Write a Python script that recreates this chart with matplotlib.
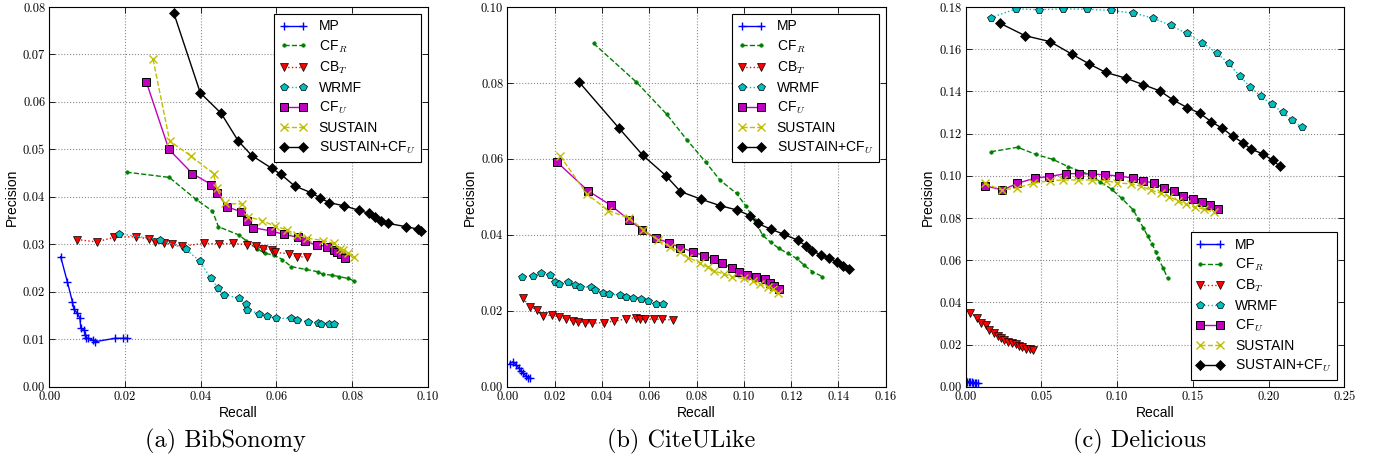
import matplotlib
matplotlib.use("Agg")
from matplotlib import pyplot as plt

# ---- (a) BibSonomy ----
bib_mp_r = [0.0030, 0.0048, 0.0061, 0.0065, 0.0074, 0.0081, 0.0083, 0.0092, 0.0095, 0.0097, 0.0103, 0.0115, 0.0122, 0.0174, 0.0196, 0.0204]
bib_mp_p = [0.0274, 0.0220, 0.0179, 0.0163, 0.0155, 0.0144, 0.0124, 0.0119, 0.0109, 0.0103, 0.0102, 0.0098, 0.0095, 0.0102, 0.0102, 0.0102]
bib_cfr_r = [0.0204, 0.0317, 0.0387, 0.0431, 0.0447, 0.0500, 0.0520, 0.0548, 0.0570, 0.0594, 0.0616, 0.0639, 0.0678, 0.0711, 0.0722, 0.0746, 0.0766, 0.0790, 0.0805]
bib_cfr_p = [0.0452, 0.0441, 0.0395, 0.0370, 0.0337, 0.0320, 0.0308, 0.0291, 0.0281, 0.0277, 0.0268, 0.0253, 0.0247, 0.0242, 0.0237, 0.0235, 0.0232, 0.0228, 0.0223]
bib_cbt_r = [0.0074, 0.0125, 0.0172, 0.0229, 0.0263, 0.0280, 0.0303, 0.0323, 0.0351, 0.0408, 0.0448, 0.0485, 0.0522, 0.0545, 0.0565, 0.0589, 0.0596, 0.0633, 0.0654, 0.0680]
bib_cbt_p = [0.0310, 0.0305, 0.0315, 0.0316, 0.0311, 0.0305, 0.0303, 0.0300, 0.0296, 0.0302, 0.0301, 0.0302, 0.0299, 0.0296, 0.0291, 0.0288, 0.0283, 0.0280, 0.0274, 0.0273]
bib_wrmf_r = [0.0185, 0.0292, 0.0360, 0.0397, 0.0426, 0.0445, 0.0462, 0.0502, 0.0519, 0.0523, 0.0555, 0.0576, 0.0598, 0.0638, 0.0654, 0.0684, 0.0711, 0.0717, 0.0739, 0.0752]
bib_wrmf_p = [0.0322, 0.0310, 0.0290, 0.0265, 0.0229, 0.0209, 0.0194, 0.0186, 0.0174, 0.0162, 0.0154, 0.0149, 0.0144, 0.0144, 0.0140, 0.0137, 0.0135, 0.0133, 0.0132, 0.0132]
bib_cfu_r = [0.0256, 0.0316, 0.0378, 0.0428, 0.0444, 0.0469, 0.0506, 0.0522, 0.0539, 0.0587, 0.0620, 0.0656, 0.0676, 0.0707, 0.0733, 0.0751, 0.0761, 0.0770, 0.0781]
bib_cfu_p = [0.0643, 0.0500, 0.0449, 0.0426, 0.0409, 0.0379, 0.0369, 0.0350, 0.0335, 0.0328, 0.0321, 0.0315, 0.0306, 0.0299, 0.0295, 0.0289, 0.0283, 0.0280, 0.0271]
bib_sus_r = [0.0274, 0.0318, 0.0374, 0.0434, 0.0442, 0.0464, 0.0510, 0.0526, 0.0561, 0.0595, 0.0629, 0.0655, 0.0680, 0.0724, 0.0751, 0.0767, 0.0777, 0.0788, 0.0804]
bib_sus_p = [0.0690, 0.0518, 0.0486, 0.0449, 0.0418, 0.0386, 0.0385, 0.0358, 0.0350, 0.0339, 0.0330, 0.0320, 0.0313, 0.0308, 0.0302, 0.0291, 0.0287, 0.0281, 0.0273]
bib_both_r = [0.0329, 0.0399, 0.0454, 0.0499, 0.0535, 0.0588, 0.0611, 0.0648, 0.0691, 0.0715, 0.0739, 0.0779, 0.0817, 0.0845, 0.0861, 0.0877, 0.0896, 0.0943, 0.0975, 0.0981]
bib_both_p = [0.0787, 0.0619, 0.0576, 0.0518, 0.0487, 0.0460, 0.0448, 0.0423, 0.0409, 0.0398, 0.0388, 0.0381, 0.0372, 0.0365, 0.0358, 0.0350, 0.0344, 0.0337, 0.0332, 0.0329]

# ---- (b) CiteULike ----
cul_mp_r = [0.0011, 0.0025, 0.0037, 0.0048, 0.0056, 0.0068, 0.0079, 0.0089, 0.0096]
cul_mp_p = [0.0061, 0.0066, 0.0057, 0.0050, 0.0042, 0.0035, 0.0028, 0.0024, 0.0022]
cul_cfr_r = [0.0365, 0.0546, 0.0673, 0.0758, 0.0838, 0.0899, 0.0969, 0.1008, 0.1046, 0.1079, 0.1114, 0.1149, 0.1185, 0.1223, 0.1255, 0.1290, 0.1332]
cul_cfr_p = [0.0904, 0.0802, 0.0718, 0.0651, 0.0592, 0.0544, 0.0509, 0.0476, 0.0439, 0.0399, 0.0380, 0.0364, 0.0351, 0.0338, 0.0320, 0.0303, 0.0290]
cul_cbt_r = [0.0065, 0.0096, 0.0127, 0.0149, 0.0187, 0.0220, 0.0248, 0.0276, 0.0297, 0.0328, 0.0356, 0.0410, 0.0452, 0.0500, 0.0544, 0.0561, 0.0580, 0.0621, 0.0656, 0.0699]
cul_cbt_p = [0.0233, 0.0211, 0.0202, 0.0186, 0.0189, 0.0184, 0.0179, 0.0174, 0.0171, 0.0169, 0.0167, 0.0169, 0.0173, 0.0178, 0.0182, 0.0179, 0.0178, 0.0178, 0.0177, 0.0176]
cul_wrmf_r = [0.0061, 0.0110, 0.0144, 0.0180, 0.0201, 0.0220, 0.0255, 0.0286, 0.0307, 0.0352, 0.0370, 0.0403, 0.0431, 0.0476, 0.0500, 0.0530, 0.0565, 0.0593, 0.0628, 0.0659]
cul_wrmf_p = [0.0288, 0.0292, 0.0300, 0.0293, 0.0277, 0.0270, 0.0276, 0.0267, 0.0263, 0.0262, 0.0255, 0.0248, 0.0244, 0.0241, 0.0235, 0.0233, 0.0231, 0.0227, 0.0219, 0.0218]
cul_cfu_r = [0.0211, 0.0341, 0.0437, 0.0513, 0.0570, 0.0628, 0.0685, 0.0732, 0.0783, 0.0832, 0.0875, 0.0907, 0.0949, 0.0980, 0.1014, 0.1051, 0.1089, 0.1110, 0.1127, 0.1149]
cul_cfu_p = [0.0591, 0.0516, 0.0478, 0.0440, 0.0413, 0.0391, 0.0379, 0.0366, 0.0356, 0.0345, 0.0336, 0.0325, 0.0313, 0.0303, 0.0295, 0.0290, 0.0284, 0.0274, 0.0266, 0.0257]
cul_sus_r = [0.0223, 0.0337, 0.0427, 0.0514, 0.0575, 0.0638, 0.0687, 0.0732, 0.0765, 0.0814, 0.0849, 0.0873, 0.0914, 0.0948, 0.1000, 0.1039, 0.1070, 0.1103, 0.1124, 0.1145]
cul_sus_p = [0.0608, 0.0507, 0.0464, 0.0444, 0.0414, 0.0386, 0.0369, 0.0354, 0.0340, 0.0327, 0.0314, 0.0305, 0.0297, 0.0290, 0.0285, 0.0278, 0.0270, 0.0262, 0.0256, 0.0248]
cul_both_r = [0.0304, 0.0472, 0.0572, 0.0670, 0.0732, 0.0818, 0.0899, 0.0973, 0.1028, 0.1058, 0.1114, 0.1170, 0.1227, 0.1262, 0.1289, 0.1328, 0.1358, 0.1392, 0.1417, 0.1445]
cul_both_p = [0.0802, 0.0681, 0.0610, 0.0556, 0.0514, 0.0494, 0.0477, 0.0465, 0.0450, 0.0430, 0.0415, 0.0401, 0.0386, 0.0371, 0.0357, 0.0347, 0.0340, 0.0329, 0.0319, 0.0310]

# ---- (c) Delicious ----
del_mp_r = [0.0005, 0.0010, 0.0020, 0.0030, 0.0040, 0.0050, 0.0060, 0.0070, 0.0080]
del_mp_p = [0.0025, 0.0023, 0.0022, 0.0021, 0.0020, 0.0019, 0.0018, 0.0018, 0.0017]
del_cfr_r = [0.0167, 0.0343, 0.0464, 0.0574, 0.0678, 0.0821, 0.0887, 0.0964, 0.1030, 0.1107, 0.1140, 0.1173, 0.1202, 0.1232, 0.1254, 0.1272, 0.1305, 0.1334]
del_cfr_p = [0.1114, 0.1135, 0.1101, 0.1078, 0.1043, 0.1004, 0.0972, 0.0936, 0.0893, 0.0838, 0.0795, 0.0754, 0.0714, 0.0676, 0.0640, 0.0608, 0.0561, 0.0514]
del_cbt_r = [0.0029, 0.0073, 0.0101, 0.0132, 0.0154, 0.0189, 0.0211, 0.0233, 0.0255, 0.0282, 0.0308, 0.0330, 0.0352, 0.0374, 0.0396, 0.0425, 0.0447]
del_cbt_p = [0.0351, 0.0327, 0.0303, 0.0292, 0.0269, 0.0256, 0.0240, 0.0229, 0.0221, 0.0213, 0.0209, 0.0201, 0.0193, 0.0186, 0.0179, 0.0177, 0.0174]
del_wrmf_r = [0.0165, 0.0332, 0.0486, 0.0645, 0.0803, 0.0957, 0.1103, 0.1235, 0.1353, 0.1459, 0.1563, 0.1659, 0.1736, 0.1809, 0.1877, 0.1948, 0.2020, 0.2093, 0.2154, 0.2218]
del_wrmf_p = [0.1749, 0.1791, 0.1787, 0.1791, 0.1789, 0.1784, 0.1772, 0.1748, 0.1713, 0.1675, 0.1631, 0.1582, 0.1533, 0.1474, 0.1422, 0.1378, 0.1339, 0.1301, 0.1266, 0.1229]
del_cfu_r = [0.0128, 0.0242, 0.0341, 0.0458, 0.0550, 0.0660, 0.0750, 0.0836, 0.0922, 0.1012, 0.1103, 0.1173, 0.1246, 0.1309, 0.1375, 0.1437, 0.1503, 0.1560, 0.1613, 0.1664]
del_cfu_p = [0.0953, 0.0932, 0.0964, 0.0989, 0.0996, 0.1010, 0.1010, 0.1008, 0.1004, 0.0999, 0.0989, 0.0977, 0.0964, 0.0942, 0.0928, 0.0906, 0.0890, 0.0876, 0.0860, 0.0844]
del_sus_r = [0.0128, 0.0238, 0.0341, 0.0447, 0.0557, 0.0645, 0.0744, 0.0832, 0.0924, 0.0997, 0.1089, 0.1158, 0.1221, 0.1290, 0.1345, 0.1400, 0.1455, 0.1514, 0.1576, 0.1642]
del_sus_p = [0.0964, 0.0932, 0.0943, 0.0964, 0.0977, 0.0980, 0.0980, 0.0980, 0.0977, 0.0967, 0.0961, 0.0951, 0.0932, 0.0917, 0.0901, 0.0882, 0.0864, 0.0853, 0.0841, 0.0828]
del_both_r = [0.0227, 0.0392, 0.0557, 0.0700, 0.0816, 0.0924, 0.1056, 0.1173, 0.1283, 0.1371, 0.1463, 0.1547, 0.1622, 0.1695, 0.1763, 0.1829, 0.1882, 0.1965, 0.2027, 0.2075]
del_both_p = [0.1723, 0.1664, 0.1636, 0.1577, 0.1530, 0.1490, 0.1463, 0.1432, 0.1402, 0.1359, 0.1323, 0.1296, 0.1256, 0.1225, 0.1188, 0.1157, 0.1127, 0.1103, 0.1073, 0.1046]

labels = ['MP', 'CF$_R$', 'CB$_T$', 'WRMF', 'CF$_U$', 'SUSTAIN', 'SUSTAIN+CF$_U$']
captions = ['(a) BibSonomy', '(b) CiteULike', '(c) Delicious']

plt.rcParams['font.family'] = ['Liberation Sans', 'DejaVu Sans']
plt.rcParams['mathtext.fontset'] = 'cm'

# style per method: color, linestyle, marker, marker size, marker edge
styles = [
    dict(color='b', ls='-', marker='+', ms=6, mew=1.0),
    dict(color='g', ls='--', marker='.', ms=5, mew=0.5),
    dict(color='r', ls=':', marker='v', ms=6, mec='k', mew=0.5),
    dict(color='c', ls=':', marker='p', ms=6, mec='k', mew=0.5),
    dict(color='m', ls='-', marker='s', ms=5.5, mec='k', mew=0.7),
    dict(color='y', ls='--', marker='x', ms=6, mew=1.0),
    dict(color='k', ls='-', marker='D', ms=5.5, mec='k', mew=0.5),
]

panels = [
    ([(bib_mp_r, bib_mp_p), (bib_cfr_r, bib_cfr_p), (bib_cbt_r, bib_cbt_p), (bib_wrmf_r, bib_wrmf_p),
      (bib_cfu_r, bib_cfu_p), (bib_sus_r, bib_sus_p), (bib_both_r, bib_both_p)],
     0.10, 0.02, 0.08, 0.01, 'upper right'),
    ([(cul_mp_r, cul_mp_p), (cul_cfr_r, cul_cfr_p), (cul_cbt_r, cul_cbt_p), (cul_wrmf_r, cul_wrmf_p),
      (cul_cfu_r, cul_cfu_p), (cul_sus_r, cul_sus_p), (cul_both_r, cul_both_p)],
     0.16, 0.02, 0.10, 0.02, 'upper right'),
    ([(del_mp_r, del_mp_p), (del_cfr_r, del_cfr_p), (del_cbt_r, del_cbt_p), (del_wrmf_r, del_wrmf_p),
      (del_cfu_r, del_cfu_p), (del_sus_r, del_sus_p), (del_both_r, del_both_p)],
     0.25, 0.05, 0.18, 0.02, 'lower right'),
]

fig = plt.figure(figsize=(13.79, 4.62), dpi=100)
lefts = [49.3, 507.3, 965.7]
cap_x = [225, 681, 1140]

for i, (series, xmax, xstep, ymax, ystep, loc) in enumerate(panels):
    ax = fig.add_axes([lefts[i] / 1379, 75.3 / 462, 378.5 / 1379, 379.7 / 462])
    for (rx, py), lab, st in zip(series, labels, styles):
        ax.plot(rx, py, label=lab, lw=1.0, **st)
    ax.set_xlim(0, xmax)
    ax.set_ylim(0, ymax)
    nx = int(round(xmax / xstep))
    ny = int(round(ymax / ystep))
    xt = [k * xstep for k in range(nx + 1)]
    yt = [k * ystep for k in range(ny + 1)]
    ax.set_xticks(xt)
    ax.set_yticks(yt)
    ax.set_xticklabels(['%.2f' % v for v in xt], fontfamily='cmr10', fontsize=9)
    ax.set_yticklabels(['%.2f' % v for v in yt], fontfamily='cmr10', fontsize=9)
    ax.tick_params(direction='in', top=True, right=True, length=4, width=0.6, pad=3)
    ax.grid(True, ls=':', color='0.55', lw=0.8)
    for s in ax.spines.values():
        s.set_linewidth(0.8)
    ax.set_xlabel('Recall', fontsize=10, labelpad=2)
    ax.set_ylabel('Precision', fontsize=10, labelpad=3)
    leg = ax.legend(loc=loc, numpoints=2, fontsize=10, fancybox=False, framealpha=1,
                    handlelength=2.0, handletextpad=0.8, borderaxespad=0.5, labelspacing=0.35)
    leg.get_frame().set_edgecolor('k')
    leg.get_frame().set_linewidth(0.8)
    fig.text(cap_x[i] / 1379, 1 - 441 / 462, captions[i], fontfamily='cmr10', fontsize=17.5,
             ha='center', va='center')

fig.savefig('out.png', dpi=100, facecolor='white')
